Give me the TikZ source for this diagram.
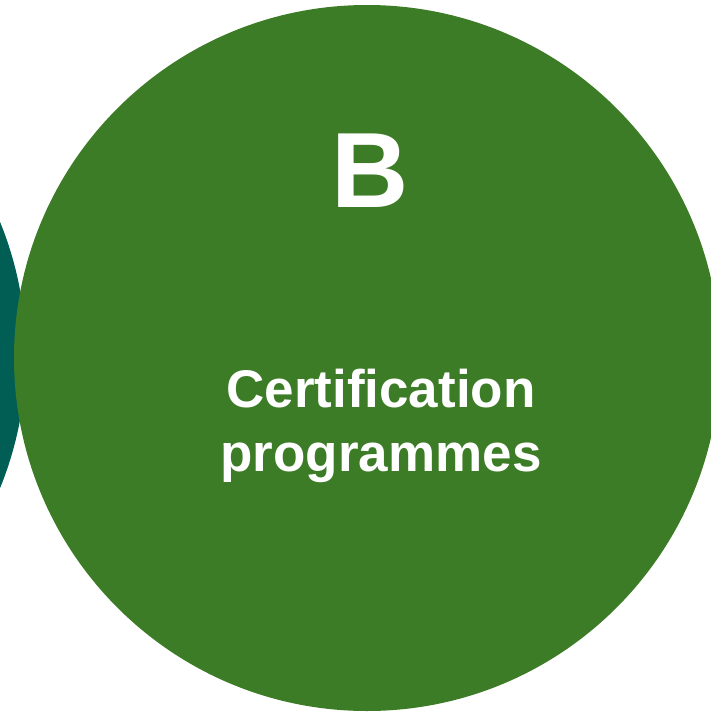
\documentclass[tikz,border=0pt]{standalone}
\usepackage{fontspec}
\setmainfont{Liberation Sans}
\usepackage{tikz}

\definecolor{leafgreen}{RGB}{61,124,38}
\definecolor{deepteal}{RGB}{0,94,84}

\begin{document}
\begin{tikzpicture}[x=1pt,y=-1pt,
  disc/.style={circle,inner sep=0pt,minimum size=706pt},
  txt/.style={text=white,align=center,inner sep=0pt}]
  \useasboundingbox (0,0) rectangle (711,712);
  \node[disc,fill=deepteal] (A) at (-327,355) {};
  \node[disc,fill=leafgreen] (B) at (367,358) {};
  \node[txt,anchor=base,font=\bfseries\fontsize{107}{107}\selectfont] (letter) at (370,207) {B};
  \node[txt,font=\bfseries\fontsize{53}{64}\selectfont] (title) at (381,426)
    {Certification\\programmes};
\end{tikzpicture}
\end{document}
